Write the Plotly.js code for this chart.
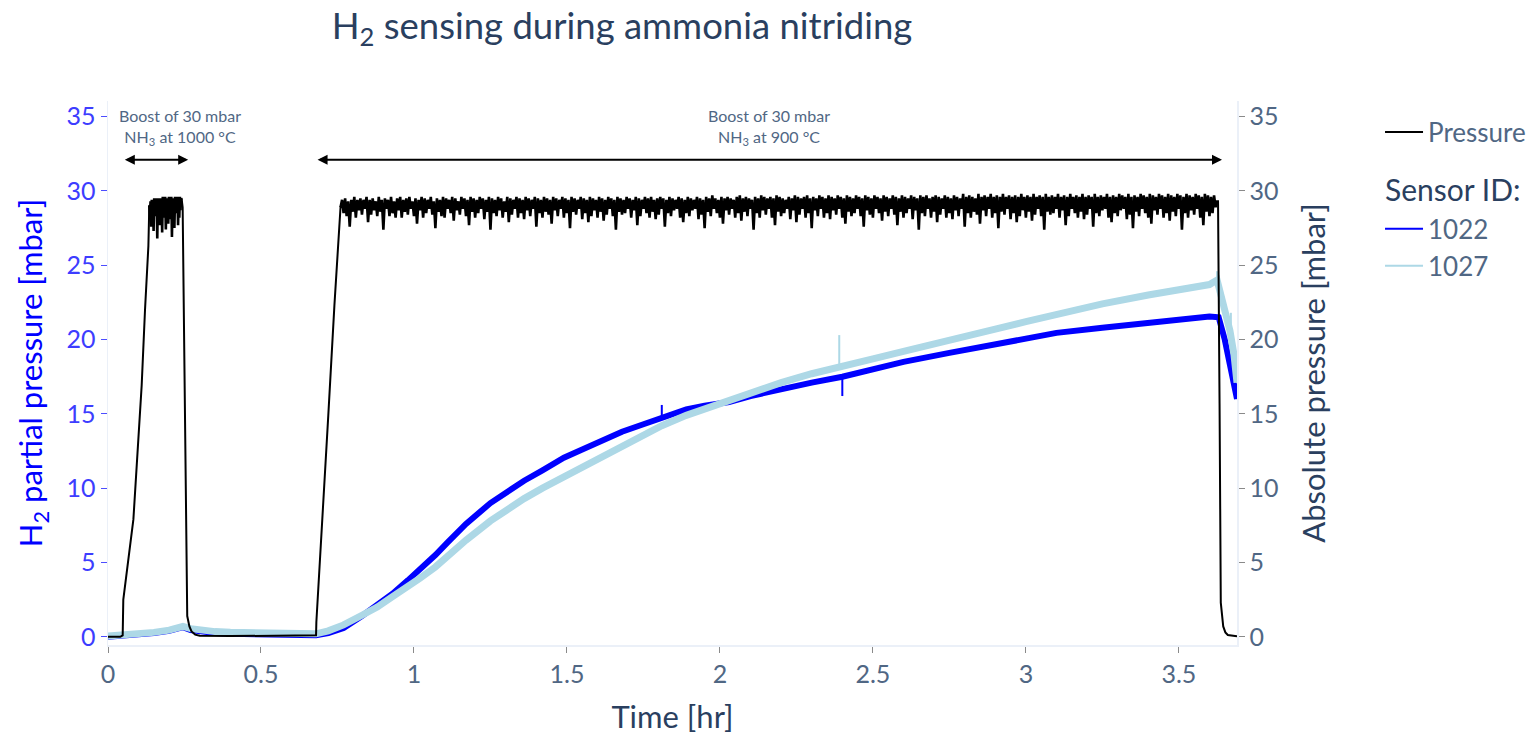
<!DOCTYPE html>
<html>
<head>
<meta charset="utf-8">
<script src="https://cdn.plot.ly/plotly-3.0.1.min.js"></script>
<style>html,body{margin:0;padding:0;background:#fff;}#chart{width:1532px;height:739px;}</style>
</head>
<body>
<div id="chart"></div>
<script>
// ---- Pressure (absolute, right axis): ramps and drops ----
const pressureTime = [
  0, 0.02, 0.04, 0.048, 0.05, 0.083, 0.099, 0.110, 0.121, 0.132, 0.135,
  0.241, 0.244, 0.2516, 0.256, 0.259, 0.266, 0.273, 0.285, 0.30, 0.40, 0.50, 0.60, 0.678,
  0.68, 0.681, 0.70, 0.72, 0.74, 0.752, 0.758, 0.76,
  3.625, 3.628, 3.633, 3.637, 3.645, 3.652, 3.66, 3.675, 3.69
];
const pressureValues = [
  0, 0, 0, 0.1, 2.5, 7.9, 12.8, 16.9, 22.0, 26.3, 29.0,
  29.4, 28.9, 15.7, 4.0, 1.4, 0.7, 0.36, 0.15, 0.07, 0.05, 0.05, 0.05, 0.05,
  0.1, 1.0, 7.5, 14.9, 22.3, 26.8, 28.8, 28.9,
  29.3, 29.3, 15.7, 2.3, 0.7, 0.3, 0.12, 0.05, 0.03
];
// Plateau of the first boost: samples every 0.002 hr from 0.135 hr
const boost1Start = 0.135;
const boost1Step = 0.002;
const boost1Pressure = [
  29.0,28.2,29.3,27.6,29.4,28.5,29.2,27.3,29.5,28.3,
  29.4,28.6,29.5,26.8,29.4,28.0,29.5,27.7,29.3,28.6,
  29.5,27.2,29.6,28.2,29.4,28.7,29.6,27.4,29.5,28.4,
  29.3,27.8,29.6,28.1,29.5,28.8,29.6,26.9,29.5,28.3,
  29.4,27.5,29.6,28.5,29.5,28.9,29.6,27.7,29.5,28.2,
  29.6,28.7,29.5,29.4
];
// Plateau of the second boost: samples every 0.005 hr from 0.76 hr
const boost2Start = 0.76;
const boost2Step = 0.005;
const boost2Pressure = [
  28.9,29.4,28.5,29.5,28.3,29.3,27.6,29.4,28.6,29.6,28.2,29.4,28.7,29.5,28.4,29.4,28.8,29.6,27.9,29.4,
  28.4,29.5,28.7,29.3,28.3,29.6,28.6,29.4,27.4,29.5,28.8,29.4,28.3,29.6,28.5,29.3,28.2,29.5,28.7,29.6,
  28.2,29.4,28.6,29.5,28.4,29.6,28.8,29.3,28.3,29.5,27.8,29.4,28.7,29.6,28.2,29.5,28.5,29.4,28.8,29.6,
  28.4,29.3,27.5,29.5,28.6,29.4,28.3,29.6,28.2,29.5,28.8,29.4,28.5,29.6,28.0,29.5,28.7,29.3,28.4,29.6,
  28.8,29.5,28.3,29.4,27.7,29.6,28.6,29.5,28.2,29.4,28.5,29.6,28.8,29.5,28.1,29.4,28.6,29.6,27.4,29.5,
  28.5,29.4,28.3,29.6,28.7,29.5,28.2,29.3,28.6,29.6,27.9,29.5,28.4,29.4,28.8,29.6,28.2,29.5,28.5,29.4,
  28.1,29.6,28.7,29.5,28.3,29.4,28.8,29.6,27.6,29.5,28.5,29.4,28.2,29.6,28.6,29.5,28.4,29.4,27.8,29.6,
  28.7,29.5,28.3,29.4,28.8,29.6,28.2,29.5,28.5,29.4,27.5,29.6,28.6,29.5,28.4,29.4,28.8,29.6,28.1,29.5,
  28.5,29.4,27.9,29.6,28.3,29.5,28.7,29.4,28.2,29.6,28.6,29.5,28.0,29.4,28.4,29.6,28.8,29.5,28.3,29.4,
  27.4,29.6,28.6,29.5,28.4,29.4,28.5,29.6,28.8,29.5,28.2,29.4,28.7,29.6,27.7,29.5,28.3,29.4,28.8,29.6,
  28.5,29.5,28.2,29.6,28.6,29.4,28.1,29.5,28.4,29.6,28.8,29.5,27.6,29.4,28.5,29.6,28.3,29.5,28.7,29.4,
  28.8,29.6,28.2,29.5,27.9,29.4,28.5,29.6,28.3,29.5,28.7,29.4,28.8,29.6,28.1,29.5,28.4,29.4,27.5,29.6,
  28.6,29.5,28.3,29.7,28.8,29.5,28.5,29.4,28.2,29.6,27.8,29.5,28.7,29.6,28.4,29.5,28.8,29.4,28.2,29.6,
  28.5,29.7,28.0,29.5,28.6,29.6,28.3,29.5,28.8,29.4,27.4,29.6,28.5,29.5,28.2,29.7,28.7,29.6,28.4,29.5,
  28.8,29.6,28.2,29.5,27.7,29.7,28.6,29.6,28.3,29.5,28.5,29.4,28.8,29.6,28.1,29.5,28.7,29.7,27.9,29.6,
  28.4,29.5,28.8,29.6,28.2,29.7,28.5,29.5,27.5,29.6,28.7,29.5,28.3,29.7,28.8,29.6,28.2,29.5,28.5,29.7,
  28.1,29.6,28.7,29.5,28.4,29.7,28.8,29.6,28.2,29.5,27.8,29.7,28.6,29.6,28.3,29.5,28.5,29.7,28.8,29.6,
  28.3,29.5,27.6,29.7,28.7,29.6,28.4,29.5,28.2,29.7,28.8,29.6,28.5,29.5,28.0,29.7,28.6,29.6,28.3,29.5,
  28.8,29.7,28.4,29.6,27.7,29.5,28.6,29.7,28.2,29.6,28.5,29.5,28.8,29.7,28.1,29.6,28.7,29.5,27.4,29.7,
  28.5,29.6,28.3,29.7,28.8,29.5,28.2,29.6,28.6,29.7,27.9,29.6,28.4,29.5,28.8,29.7,28.2,29.6,28.5,29.5,
  28.1,29.7,28.7,29.6,28.3,29.5,28.8,29.8,27.6,29.6,28.5,29.7,28.2,29.6,28.6,29.5,28.4,29.8,27.8,29.6,
  28.7,29.7,28.3,29.6,28.8,29.8,28.2,29.6,28.5,29.7,27.5,29.6,28.6,29.8,28.4,29.6,28.8,29.7,28.1,29.6,
  28.5,29.7,27.9,29.6,28.3,29.8,28.7,29.6,28.2,29.7,28.6,29.6,28.0,29.8,28.4,29.6,28.8,29.7,28.3,29.6,
  27.4,29.8,28.6,29.6,28.4,29.7,28.5,29.6,28.8,29.8,28.2,29.6,28.7,29.7,27.7,29.6,28.3,29.8,28.8,29.6,
  28.5,29.7,28.2,29.6,28.6,29.8,28.1,29.6,28.4,29.7,28.8,29.6,27.6,29.8,28.5,29.6,28.3,29.7,28.7,29.6,
  28.8,29.8,28.2,29.6,27.9,29.7,28.5,29.6,28.3,29.8,28.7,29.7,28.8,29.6,28.1,29.8,28.4,29.6,27.5,29.7,
  28.6,29.6,28.3,29.8,28.8,29.7,28.5,29.6,28.2,29.8,27.8,29.7,28.7,29.6,28.4,29.8,28.8,29.7,28.2,29.6,
  28.5,29.8,28.0,29.7,28.6,29.6,28.3,29.8,28.8,29.7,27.4,29.6,28.5,29.8,28.2,29.7,28.7,29.6,28.4,29.8,
  28.8,29.7,28.2,29.6,27.7,29.8,28.6,29.7,28.3,29.6,28.5,29.7,28.9,29.3
];

// ---- H2 partial pressure sensors (left axis) ----
const sensor1022Time = [
  0, 0.05, 0.1, 0.15, 0.2, 0.245, 0.27, 0.3, 0.35, 0.4,
  0.5, 0.6, 0.68, 0.72, 0.77, 0.83, 0.88, 0.93, 0.98, 1.02,
  1.07, 1.11, 1.17, 1.25, 1.3, 1.36, 1.42, 1.49, 1.55, 1.62,
  1.68, 1.75, 1.81, 1.89, 1.95, 2.03, 2.1, 2.2, 2.3, 2.4,
  2.5, 2.6, 2.75, 2.9, 3.0, 3.1, 3.25, 3.4, 3.5, 3.6,
  3.63, 3.65, 3.667, 3.675, 3.69
];
const sensor1022Values = [
  0.0, 0.05, 0.15, 0.25, 0.4, 0.65, 0.45, 0.35, 0.25, 0.2,
  0.15, 0.1, 0.1, 0.25, 0.6, 1.4, 2.1, 2.9, 3.8, 4.5,
  5.5, 6.35, 7.6, 9.0, 9.7, 10.5, 11.2, 12.05, 12.6, 13.3,
  13.8, 14.3, 14.75, 15.3, 15.55, 15.8, 16.2, 16.7, 17.1, 17.5,
  18.0, 18.5, 19.1, 19.7, 20.1, 20.45, 20.8, 21.1, 21.35, 21.55,
  21.5, 20.0, 18.3, 17.6, 16.0
];
const sensor1022SpikeTime = [1.81, 2.40];
const sensor1022SpikeBase = [14.75, 17.5];
const sensor1022SpikeTip = [15.6, 16.2];

const sensor1027Time = [
  0, 0.05, 0.1, 0.15, 0.2, 0.245, 0.27, 0.3, 0.35, 0.4,
  0.5, 0.6, 0.68, 0.72, 0.77, 0.83, 0.88, 0.93, 0.98, 1.02,
  1.07, 1.11, 1.17, 1.25, 1.3, 1.36, 1.42, 1.49, 1.55, 1.62,
  1.68, 1.75, 1.81, 1.89, 1.95, 2.03, 2.1, 2.2, 2.3, 2.39,
  2.5, 2.6, 2.75, 2.9, 3.0, 3.1, 3.25, 3.4, 3.5, 3.6,
  3.625, 3.64, 3.655, 3.667, 3.68, 3.69
];
const sensor1027Values = [
  0.05, 0.1, 0.2, 0.3, 0.45, 0.7, 0.55, 0.45, 0.35, 0.3,
  0.25, 0.2, 0.2, 0.4, 0.8, 1.45, 2.0, 2.7, 3.35, 3.95,
  4.7, 5.45, 6.5, 7.8, 8.5, 9.3, 10.0, 10.75, 11.4, 12.15,
  12.8, 13.6, 14.2, 14.9, 15.35, 15.9, 16.4, 17.1, 17.7, 18.2,
  18.7, 19.2, 19.9, 20.7, 21.2, 21.7, 22.4, 23.0, 23.4, 23.7,
  24.0, 22.8, 21.5, 20.6, 19.0, 17.1
];
const sensor1027SpikeTime = [2.39, 3.625, 3.67];
const sensor1027SpikeBase = [18.2, 24.0, 20.3];
const sensor1027SpikeTip = [20.3, 24.6, 21.8];

// ---- Labels ----
const chartTitle = 'H<sub>2</sub> sensing during ammonia nitriding';
const xTitle = 'Time [hr]';
const yLeftTitle = 'H<sub>2</sub> partial pressure [mbar]';
const yRightTitle = 'Absolute pressure [mbar]';
const boostLabels = ['Boost of 30 mbar<br>NH<sub>3</sub> at 1000 °C', 'Boost of 30 mbar<br>NH<sub>3</sub> at 900 °C'];
const boostStart = [0.05, 0.68];
const boostEnd = [0.262, 3.641];
const boostTextX = [0.235, 2.16];
const arrowLevel = 32.1;
const textLevel = 34.3;

const FONT = 'Lato, "Open Sans", sans-serif';
const yRange = [-0.55, 36.05];

function spikes(t, base, tip) {
  const x = [], y = [];
  for (let i = 0; i < t.length; i++) { x.push(t[i], t[i], null); y.push(base[i], tip[i], null); }
  return {x, y};
}
const s1022 = spikes(sensor1022SpikeTime, sensor1022SpikeBase, sensor1022SpikeTip);
const s1027 = spikes(sensor1027SpikeTime, sensor1027SpikeBase, sensor1027SpikeTip);
const groupTitle = {text: 'Sensor ID:', font: {size: 30, color: '#2a3f5f', family: FONT}};

const traces = [
  {x: pressureTime, y: pressureValues, name: 'Pressure', type: 'scatter', mode: 'lines',
   yaxis: 'y2', line: {color: 'black', width: 2}, legendgroup: 'p'},
  {y: boost1Pressure, x0: boost1Start, dx: boost1Step, name: 'Pressure', type: 'scatter', mode: 'lines',
   yaxis: 'y2', line: {color: 'black', width: 2.6}, legendgroup: 'p', showlegend: false},
  {y: boost2Pressure, x0: boost2Start, dx: boost2Step, name: 'Pressure', type: 'scatter', mode: 'lines',
   yaxis: 'y2', line: {color: 'black', width: 2.6}, legendgroup: 'p', showlegend: false},

  {x: sensor1022Time, y: sensor1022Values, name: '1022', type: 'scatter', mode: 'lines',
   line: {color: 'blue', width: 6}, legendgroup: 's', showlegend: false, legendgrouptitle: groupTitle},
  {x: s1022.x, y: s1022.y, name: '1022', type: 'scatter', mode: 'lines', connectgaps: false,
   line: {color: 'blue', width: 2}, legendgroup: 's', showlegend: false, legendgrouptitle: groupTitle},
  {x: sensor1022Time, y: sensor1022Values, name: '1022', type: 'scatter', mode: 'lines',
   line: {color: 'blue', width: 2}, legendgroup: 's', legendgrouptitle: groupTitle},

  {x: sensor1027Time, y: sensor1027Values, name: '1027', type: 'scatter', mode: 'lines',
   line: {color: 'lightblue', width: 7}, legendgroup: 's', showlegend: false, legendgrouptitle: groupTitle},
  {x: s1027.x, y: s1027.y, name: '1027', type: 'scatter', mode: 'lines', connectgaps: false,
   line: {color: 'lightblue', width: 2}, legendgroup: 's', showlegend: false, legendgrouptitle: groupTitle},
  {x: sensor1027Time, y: sensor1027Values, name: '1027', type: 'scatter', mode: 'lines',
   line: {color: 'lightblue', width: 2}, legendgroup: 's', legendgrouptitle: groupTitle}
];

const annotations = [];
for (let i = 0; i < boostLabels.length; i++) {
  annotations.push({
    xref: 'x', yref: 'y', axref: 'x', ayref: 'y',
    x: boostEnd[i], y: arrowLevel, ax: boostStart[i], ay: arrowLevel,
    text: '', showarrow: true, arrowside: 'end+start',
    arrowhead: 2, startarrowhead: 2, arrowsize: 1, startarrowsize: 1,
    arrowwidth: 2, arrowcolor: 'black', standoff: 0, startstandoff: 0
  });
  annotations.push({
    xref: 'x', yref: 'y', x: boostTextX[i], y: textLevel,
    text: boostLabels[i], showarrow: false,
    font: {size: 16, color: '#506784', family: FONT}, align: 'center'
  });
}

const layout = {
  width: 1532, height: 739,
  paper_bgcolor: 'white', plot_bgcolor: 'white',
  font: {family: FONT, color: '#2a3f5f'},
  margin: {l: 108, r: 295, t: 101, b: 94, autoexpand: false},
  title: {text: chartTitle, font: {size: 36.5, color: '#2a3f5f', family: FONT},
          xref: 'container', x: 0.406, xanchor: 'center', yref: 'container', y: 0.965, yanchor: 'middle'},
  xaxis: {range: [0, 3.69], dtick: 0.5, tick0: 0, showgrid: false, zeroline: false,
          showline: true, linecolor: '#ebf0f8', linewidth: 1.5,
          ticks: 'outside', ticklen: 6, tickcolor: '#8a8a8a', tickwidth: 1,
          tickfont: {size: 25, color: '#506784'},
          title: {text: xTitle, font: {size: 31, color: '#2a3f5f'}, standoff: 20}},
  yaxis: {range: yRange, dtick: 5, tick0: 0, showgrid: false, zeroline: false,
          showline: true, linecolor: '#ebf0f8', linewidth: 1.5,
          ticks: 'outside', ticklen: 6, tickcolor: '#4d4dff', tickwidth: 1,
          tickfont: {size: 25, color: '#3d3dff'},
          title: {text: yLeftTitle, font: {size: 31, color: 'blue'}, standoff: 14}},
  yaxis2: {range: yRange, dtick: 5, tick0: 0, overlaying: 'y', side: 'right',
           showgrid: false, zeroline: false, showline: true, linecolor: '#ebf0f8', linewidth: 1.5,
           ticks: 'outside', ticklen: 6, tickcolor: '#8a8a8a', tickwidth: 1,
           tickfont: {size: 25, color: '#506784'},
           title: {text: yRightTitle, font: {size: 31, color: '#2a3f5f'}, standoff: 26}},
  legend: {xref: 'container', yref: 'container', x: 0.9008, xanchor: 'left', y: 0.853, yanchor: 'top',
           font: {size: 26, color: '#506784', family: FONT},
           tracegroupgap: 18, itemwidth: 38, bgcolor: 'rgba(0,0,0,0)'},
  annotations: annotations,
  showlegend: true
};

Plotly.newPlot('chart', traces, layout, {displayModeBar: false, staticPlot: true});
</script>
</body>
</html>
